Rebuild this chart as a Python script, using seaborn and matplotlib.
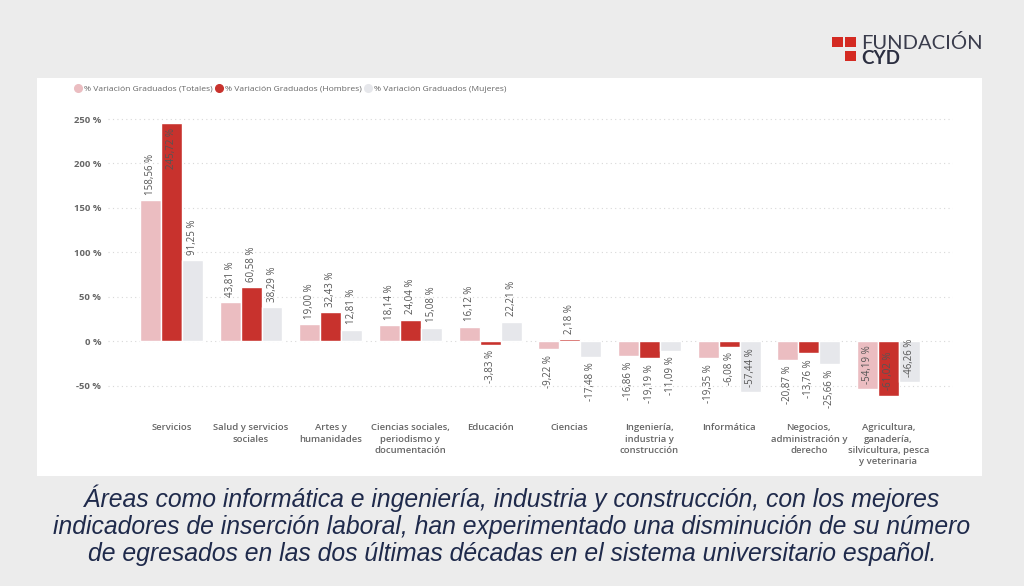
import pandas as pd
import seaborn as sns
import matplotlib.pyplot as plt
from matplotlib.patches import Rectangle
from matplotlib.lines import Line2D

categorias = ["Servicios", "Salud y servicios\nsociales", "Artes y\nhumanidades",
              "Ciencias sociales,\nperiodismo y\ndocumentación", "Educación", "Ciencias",
              "Ingeniería,\nindustria y\nconstrucción", "Informática",
              "Negocios,\nadministración y\nderecho",
              "Agricultura,\nganadería,\nsilvicultura, pesca\ny veterinaria"]
totales = [158.56, 43.81, 19.00, 18.14, 16.12, -9.22, -16.86, -19.35, -20.87, -54.19]
hombres = [245.72, 60.58, 32.43, 24.04, -3.83, 2.18, -19.19, -6.08, -13.76, -61.02]
mujeres = [91.25, 38.29, 12.81, 15.08, 22.21, -17.48, -11.09, -57.44, -25.66, -46.26]
series = ["% Variación Graduados (Totales)", "% Variación Graduados (Hombres)",
          "% Variación Graduados (Mujeres)"]
colores = ["#ebbdc1", "#c8322d", "#e6e7eb"]
yticks = [-50, 0, 50, 100, 150, 200, 250]

df = pd.DataFrame({
    "Area": categorias * 3,
    "Serie": [series[0]] * 10 + [series[1]] * 10 + [series[2]] * 10,
    "Valor": totales + hombres + mujeres,
})

sns.set_theme(style="white")
plt.rcParams['font.family'] = ['Open Sans', 'DejaVu Sans']

fig = plt.figure(figsize=(10.24, 5.86), dpi=100, facecolor="#ececec")
panel = Rectangle((37 / 1024, 1 - 476 / 586), (982 - 37) / 1024, (476 - 78) / 586,
                  transform=fig.transFigure, facecolor="white", edgecolor="none", zorder=-5)
fig.patches.append(panel)

ax = fig.add_axes([108 / 1024, 1 - 405 / 586, (953 - 108) / 1024, (405 - 108) / 586])
ax.set_zorder(2)
ax.set_facecolor("none")
sns.barplot(data=df, x="Area", y="Valor", hue="Serie", palette=colores, width=0.79,
            saturation=1, ax=ax, zorder=3)
ax.set_xlim(-0.795, 9.81)
ax.set_ylim(-71.7, 262.4)
ax.set_yticks(yticks)
ax.set_yticklabels([f"{t} %" for t in yticks], fontsize=6.8, color="#666666", fontweight="bold")
ax.tick_params(axis="x", labelsize=6.8, labelcolor="#666666", pad=13, length=0)
ax.tick_params(axis="y", length=0, pad=5)
for lab in ax.get_xticklabels():
    lab.set_fontweight("semibold")
    lab.set_linespacing(1.35)
ax.set_xlabel("")
ax.set_ylabel("")
ax.grid(axis="y", color="#d8d8d8", linestyle=(0, (1, 3)), linewidth=0.8, zorder=0)
sns.despine(ax=ax, left=True, bottom=True)

for cont in ax.containers:
    for bar in cont:
        v = bar.get_height()
        x = bar.get_x() + bar.get_width() / 2
        txt = f"{v:.2f}".replace(".", ",") + " %"
        inside = v > 200 or v < -40
        if v >= 0:
            va, off = ("top", -4) if inside else ("bottom", 4)
        else:
            va, off = ("bottom", 4) if inside else ("top", -4)
        ax.annotate(txt, (x, v), xytext=(0, off), textcoords="offset points",
                    rotation=90, ha="center", va=va, fontsize=7, color="#555555", zorder=5)

handles = [Line2D([], [], marker="o", linestyle="none", markersize=5.5,
                  markerfacecolor=c, markeredgecolor=c) for c in colores]
ax.legend(handles, series, loc="center left", bbox_to_anchor=(74 / 1024, 1 - 89 / 586),
          bbox_transform=fig.transFigure, ncol=3, frameon=False, fontsize=6.1,
          handletextpad=0.15, columnspacing=0.3, handlelength=1.0, labelcolor="#666666",
          borderpad=0, borderaxespad=0)

# logo
for (x0, y0) in [(832, 37), (845, 37), (845, 51)]:
    fig.patches.append(Rectangle((x0 / 1024, 1 - (y0 + 10) / 586), 11 / 1024, 10 / 586,
                                 transform=fig.transFigure, facecolor="#d42a22",
                                 edgecolor="none"))
fig.text(861 / 1024, 1 - 43 / 586, "FUNDACIÓN", fontsize=14.5, color="#3a3c4c",
         fontweight="normal", family=["Lato", "DejaVu Sans"], va="center", ha="left")
fig.text(861 / 1024, 1 - 59 / 586, "CYD", fontsize=13.5, color="#2b2e40",
         fontweight="bold", family=["Lato", "DejaVu Sans"], va="center", ha="left")

caption = ("Áreas como informática e ingeniería, industria y construcción, con los mejores\n"
           "indicadores de inserción laboral, han experimentado una disminución de su número\n"
           "de egresados en las dos últimas décadas en el sistema universitario español.")
fig.text(0.5, 1 - 525 / 586, caption, fontsize=17.8, style="italic", color="#1f2a4b",
         family=["Liberation Sans", "DejaVu Sans"], ha="center", va="center", linespacing=1.17)

fig.savefig("out.png", dpi=100, facecolor=fig.get_facecolor())
